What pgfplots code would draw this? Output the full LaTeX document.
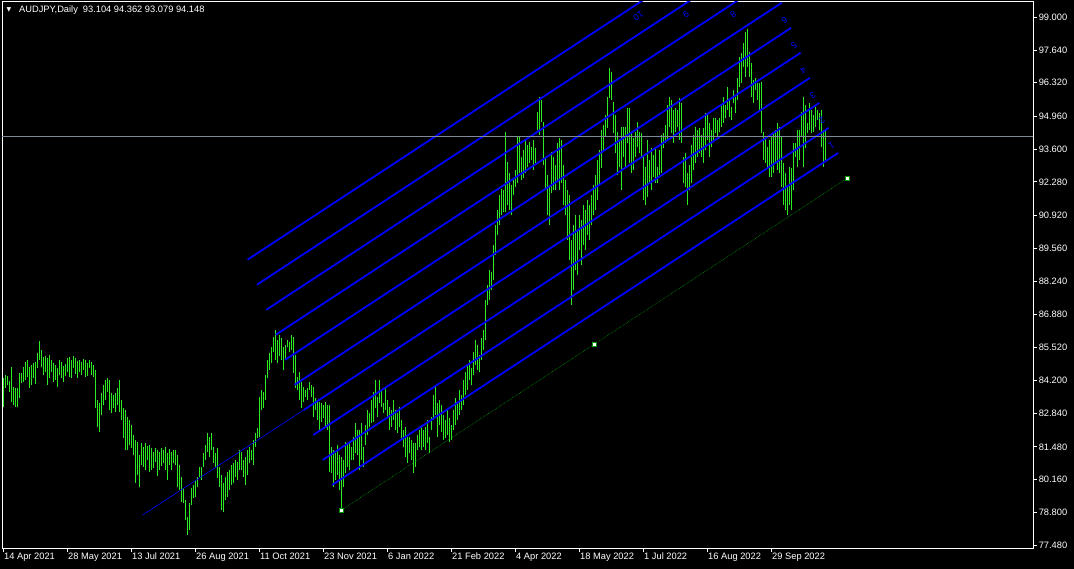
\documentclass[border=0pt]{standalone}
\usepackage{fontspec}
\setmainfont{Liberation Sans}
\newfontfamily\dejavu{DejaVu Sans}
\usepackage{pgfplots}
\pgfplotsset{compat=1.18}
\usepackage{pgfplotstable}
\definecolor{barcol}{RGB}{45,235,35}
\definecolor{fibblue}{RGB}{0,0,255}
\definecolor{pricegray}{RGB}{128,138,150}
\definecolor{basegreen}{RGB}{0,150,0}
\pgfplotstableread{
h l
84.29 83.11
84.41 83.88
84.37 84.00
84.16 83.72
84.73 83.31
83.92 83.19
83.88 83.11
83.88 83.11
84.49 83.47
84.49 84.08
84.73 84.12
84.94 84.21
85.02 84.33
84.73 83.88
84.82 84.00
84.90 84.29
84.94 84.04
85.31 84.69
85.80 85.02
85.43 84.73
85.14 84.41
85.18 84.53
85.10 84.00
85.22 84.29
85.02 84.53
84.90 84.12
84.82 84.21
84.69 83.92
85.02 84.41
84.94 84.29
84.77 84.12
84.86 84.37
85.10 84.53
85.14 84.33
85.02 84.29
85.18 84.69
85.10 84.45
84.98 84.29
85.02 84.53
84.94 84.41
85.06 84.61
85.02 84.33
84.90 84.37
85.02 84.69
84.94 84.41
84.82 84.33
84.61 83.06
83.39 82.29
83.27 82.09
83.67 82.78
84.00 83.19
84.21 83.39
84.29 83.72
84.21 82.98
83.67 82.86
83.59 83.06
83.67 82.90
83.88 83.19
84.21 82.90
83.39 82.58
83.06 81.84
82.98 81.35
82.70 81.35
82.58 81.56
82.37 81.43
81.96 81.15
81.76 80.01
81.68 80.33
81.15 79.84
81.64 80.74
81.47 80.66
81.64 80.54
81.51 80.94
81.56 80.45
81.43 80.54
81.27 80.62
81.43 80.86
81.35 80.29
81.27 80.54
81.43 80.70
81.35 80.82
81.47 80.54
81.23 80.13
81.39 80.74
81.27 80.54
81.35 80.82
81.35 80.74
81.15 79.84
80.74 79.72
80.25 79.23
79.80 79.19
79.31 78.50
78.62 77.89
79.19 78.09
79.80 79.11
79.92 79.39
80.13 79.44
80.25 79.84
80.66 80.25
80.66 80.13
81.23 80.66
81.56 80.94
82.04 81.27
81.88 81.06
82.04 81.35
81.47 80.82
81.23 80.66
81.43 80.21
80.66 79.84
80.33 78.91
80.01 78.82
80.25 79.31
80.45 79.44
80.54 79.72
80.74 79.92
80.82 80.01
80.94 80.25
80.86 80.13
81.35 80.54
81.27 80.54
80.94 80.25
81.06 79.92
81.35 80.33
81.47 80.82
81.35 80.94
81.76 80.74
82.04 81.47
82.25 81.84
83.51 81.88
83.80 82.98
83.72 83.06
84.41 83.39
85.02 84.29
85.31 84.61
85.55 84.90
85.96 85.35
86.24 85.02
85.84 84.90
86.04 85.18
85.92 85.02
85.55 84.61
85.63 85.02
85.84 85.55
85.76 85.35
86.04 85.43
85.96 84.49
85.22 83.88
84.33 83.80
84.53 83.39
84.12 83.06
83.92 83.31
83.80 83.51
83.88 83.39
84.12 83.80
84.00 83.51
83.92 82.70
83.47 82.98
83.39 82.58
83.31 82.17
83.27 82.49
83.19 82.66
83.31 82.25
83.19 82.17
83.19 80.45
81.47 80.41
81.35 79.84
81.23 80.13
81.56 80.33
81.15 79.72
81.06 78.78
80.94 79.84
81.68 80.41
81.64 80.66
81.64 80.54
81.47 80.94
81.88 80.94
82.45 81.23
82.17 81.15
82.17 80.54
82.45 80.94
81.47 80.66
82.37 81.56
82.98 81.96
82.86 82.29
83.39 82.45
83.72 82.49
84.21 83.06
83.51 82.70
84.21 83.27
83.80 83.11
83.27 82.86
83.92 82.98
83.39 82.70
83.11 82.17
82.98 82.29
83.39 82.58
82.98 82.17
82.86 82.04
83.11 82.29
82.58 81.76
82.17 81.47
82.29 81.06
81.88 80.82
81.88 81.23
81.76 80.94
81.64 80.41
81.64 80.66
81.96 81.35
82.17 81.47
82.29 81.35
82.17 81.47
82.29 81.35
82.58 81.64
81.88 81.23
82.70 82.17
83.59 82.58
83.92 82.78
83.27 81.88
83.39 82.37
83.19 82.09
82.78 81.76
82.58 81.84
82.98 81.96
82.66 81.68
82.37 81.76
82.98 82.17
83.47 82.37
83.31 82.58
83.80 82.78
83.59 82.98
84.21 83.19
84.53 83.59
84.82 83.80
85.02 84.21
84.69 84.00
85.35 84.41
85.84 84.82
85.63 84.61
85.22 84.53
85.92 85.02
86.24 85.43
87.47 85.84
88.08 87.26
88.69 87.47
88.60 87.87
89.71 88.28
90.52 89.30
91.13 90.11
91.74 90.52
91.99 90.93
91.95 91.05
94.31 91.05
93.10 91.34
92.64 91.13
92.15 90.93
92.36 91.74
92.76 92.07
94.11 92.23
94.11 92.64
93.29 92.36
93.58 92.44
93.99 92.64
93.78 92.89
93.91 93.05
93.70 93.17
93.99 92.76
93.66 93.05
95.13 94.39
95.74 94.19
95.62 94.72
94.72 92.97
93.29 91.95
92.56 90.93
92.15 90.52
93.50 91.83
93.29 91.95
92.97 91.95
93.87 92.36
94.07 91.95
93.99 92.23
92.97 91.34
92.36 90.93
91.95 89.91
91.74 89.09
89.91 87.26
90.52 87.87
90.93 88.69
90.32 88.49
90.93 89.50
90.73 88.89
91.34 89.71
91.13 89.50
91.54 90.11
91.34 89.91
91.74 90.52
92.15 90.93
92.56 91.13
93.17 91.54
93.58 92.15
94.39 92.84
94.60 93.58
95.01 94.11
95.74 94.48
96.92 95.70
96.76 95.62
95.54 94.27
95.01 93.46
94.31 92.56
93.99 92.89
94.52 91.95
94.52 93.29
94.52 92.89
95.29 93.87
95.29 93.05
94.31 92.64
94.07 92.76
94.31 93.29
94.72 93.70
94.31 93.46
94.27 93.29
93.29 91.54
92.89 91.34
93.99 91.66
93.17 92.23
93.66 91.95
93.37 92.48
93.66 92.23
92.89 92.23
93.58 92.56
94.19 92.64
94.27 93.66
94.60 93.87
95.41 93.99
95.74 94.52
95.62 94.27
95.21 93.87
95.29 94.31
95.21 94.52
95.70 93.99
95.50 93.87
93.29 92.23
93.46 92.07
92.64 91.34
92.97 91.95
93.78 92.23
94.19 92.76
94.52 93.05
94.39 93.29
94.48 93.46
94.19 93.29
94.48 93.05
95.09 93.58
95.01 93.99
94.68 93.29
94.39 93.70
94.88 93.99
94.88 94.27
94.80 94.11
94.88 94.31
95.41 94.52
95.74 94.68
95.41 94.88
96.15 95.21
95.62 94.92
95.33 94.80
96.02 95.50
95.74 95.09
96.51 95.62
97.37 96.15
97.53 96.31
97.94 96.96
98.39 96.55
98.51 96.96
97.57 96.55
97.12 95.74
96.43 95.50
96.51 96.02
96.31 95.62
96.31 95.21
96.35 94.27
94.31 93.17
94.07 93.05
93.70 92.89
93.99 92.48
94.11 92.48
94.27 92.64
94.39 93.05
94.68 92.76
94.52 92.64
94.11 92.07
93.05 91.34
92.64 91.13
92.07 90.93
92.89 91.34
92.85 91.13
93.87 91.95
93.87 93.29
94.39 92.89
94.39 93.17
95.13 94.11
95.74 92.89
95.41 93.66
94.68 94.27
95.50 94.39
95.21 94.27
95.01 94.31
95.33 94.52
95.21 94.80
95.09 94.39
95.21 93.70
94.39 92.89
94.36 93.08
}\bars

\begin{document}
\begin{tikzpicture}
\fill[black] (0,0) rectangle (1074bp,569bp);
\begin{axis}[
  at={(2bp,21bp)}, anchor=south west,
  scale only axis, width=1031bp, height=546bp,
  xmin=-0.75, xmax=514.75, ymin=77.358, ymax=99.611,
  axis line style={white, line width=1bp},
  xtick={0,32,64,96,128,160,192,224,256,288,320,352,384},
  xticklabels={14 Apr 2021,28 May 2021,13 Jul 2021,26 Aug 2021,11 Oct 2021,23 Nov 2021,6 Jan 2022,21 Feb 2022,4 Apr 2022,18 May 2022,1 Jul 2022,16 Aug 2022,29 Sep 2022},
  ytick={99,97.64,96.32,94.96,93.6,92.28,90.92,89.56,88.24,86.88,85.52,84.2,82.84,81.48,80.16,78.8,77.48},
  yticklabels={99.000,97.640,96.320,94.960,93.600,92.280,90.920,89.560,88.240,86.880,85.520,84.200,82.840,81.480,80.160,78.800,77.480},
  xtick pos=bottom, ytick pos=right, yticklabel pos=right,
  tick align=outside,
  major tick length=4bp,
  tick style={white, line width=0.8bp},
  ticklabel style={text=white, font=\fontsize{9.3bp}{10bp}\selectfont},
  xticklabel style={anchor=north west, inner sep=0pt, xshift=0.5bp, yshift=-1bp},
  yticklabel style={anchor=west, inner sep=0pt, xshift=1.5bp},
]
% price bars (high-low)
\addplot[draw=none, mark=none, forget plot,
  error bars/.cd, y dir=plus, y explicit, error mark=none,
  error bar style={draw=barcol, line width=1bp, solid}]
  table[x expr=\coordindex, y=l, y error plus expr=\thisrow{h}-\thisrow{l}] {\bars};
% thin extension of level 4
\addplot[fibblue, line width=0.6bp] coordinates {(69.5,78.70) (150.2,82.987)};
% base line of the channel
\addplot[basegreen, line width=0.6bp, densely dotted] coordinates {(169,78.906) (422,92.439)};
% channel levels 1..10
\addplot[fibblue, line width=1.8bp] coordinates {(164.3,79.926) (417.3,93.459)};
\addplot[fibblue, line width=1.8bp] coordinates {(159.6,80.946) (412.6,94.479)};
\addplot[fibblue, line width=1.8bp] coordinates {(154.9,81.967) (407.9,95.500)};
\addplot[fibblue, line width=1.8bp] coordinates {(150.2,82.987) (403.2,96.520)};
\addplot[fibblue, line width=1.8bp] coordinates {(145.5,84.007) (398.5,97.540)};
\addplot[fibblue, line width=1.8bp] coordinates {(140.8,85.027) (393.8,98.560)};
\addplot[fibblue, line width=1.8bp] coordinates {(136.1,86.047) (389.1,99.580)};
\addplot[fibblue, line width=1.8bp] coordinates {(131.4,87.068) (384.4,100.601)};
\addplot[fibblue, line width=1.8bp] coordinates {(126.7,88.088) (379.7,101.621)};
\addplot[fibblue, line width=1.8bp] coordinates {(122.0,89.108) (375.0,102.641)};
% current price line
\addplot[pricegray, line width=1bp] coordinates {(-0.75,94.148) (514.75,94.148)};
% anchor points
\addplot[only marks, mark=square*, mark size=2bp,
  mark options={fill=white, draw=basegreen, line width=0.6bp}]
  coordinates {(169,78.906) (295.5,85.672) (422,92.439)};
% level labels
\begin{scope}[every node/.style={text=fibblue, rotate=213, inner sep=0pt, font=\fontsize{9bp}{9bp}\selectfont}]
\node[xshift=1.5bp, yshift=-10bp] at (axis cs:417.3,93.459) {1};
\node[xshift=1.5bp, yshift=-10bp] at (axis cs:412.6,94.479) {2};
\node[xshift=1.5bp, yshift=-10bp] at (axis cs:407.9,95.500) {3};
\node[xshift=1.5bp, yshift=-10bp] at (axis cs:403.2,96.520) {4};
\node[xshift=1.5bp, yshift=-10bp] at (axis cs:398.5,97.540) {5};
\node[xshift=1.5bp, yshift=-10bp] at (axis cs:393.8,98.560) {6};
\node[xshift=2.5bp, yshift=-12bp] at (axis cs:389.1,99.580) {7};
\node[xshift=0.5bp] at (axis cs:365.1,99.10) {8};
\node[xshift=0.5bp] at (axis cs:341.4,99.10) {9};
\node[xshift=0.5bp] at (axis cs:317.6,99.05) {10};
\end{scope}
% current price tag
\node[fill=white, text=black, anchor=west, inner xsep=1.5bp, inner ysep=1.5bp, xshift=2.5bp,
  font=\fontsize{9.3bp}{10bp}\selectfont] at (axis cs:514.75,94.148) {94.148};
\end{axis}
% title
\node[text=white, inner sep=0pt, font=\dejavu\fontsize{6bp}{6bp}\selectfont] at (9bp,559bp) {▼};
\node[text=white, anchor=west, inner sep=0pt, font=\fontsize{9.3bp}{10bp}\selectfont] at (19bp,558.5bp) {AUDJPY,Daily\hspace{5bp}93.104 94.362 93.079 94.148};
\pgfresetboundingbox
\path (0,0) rectangle (1074bp,569bp);
\end{tikzpicture}
\end{document}
